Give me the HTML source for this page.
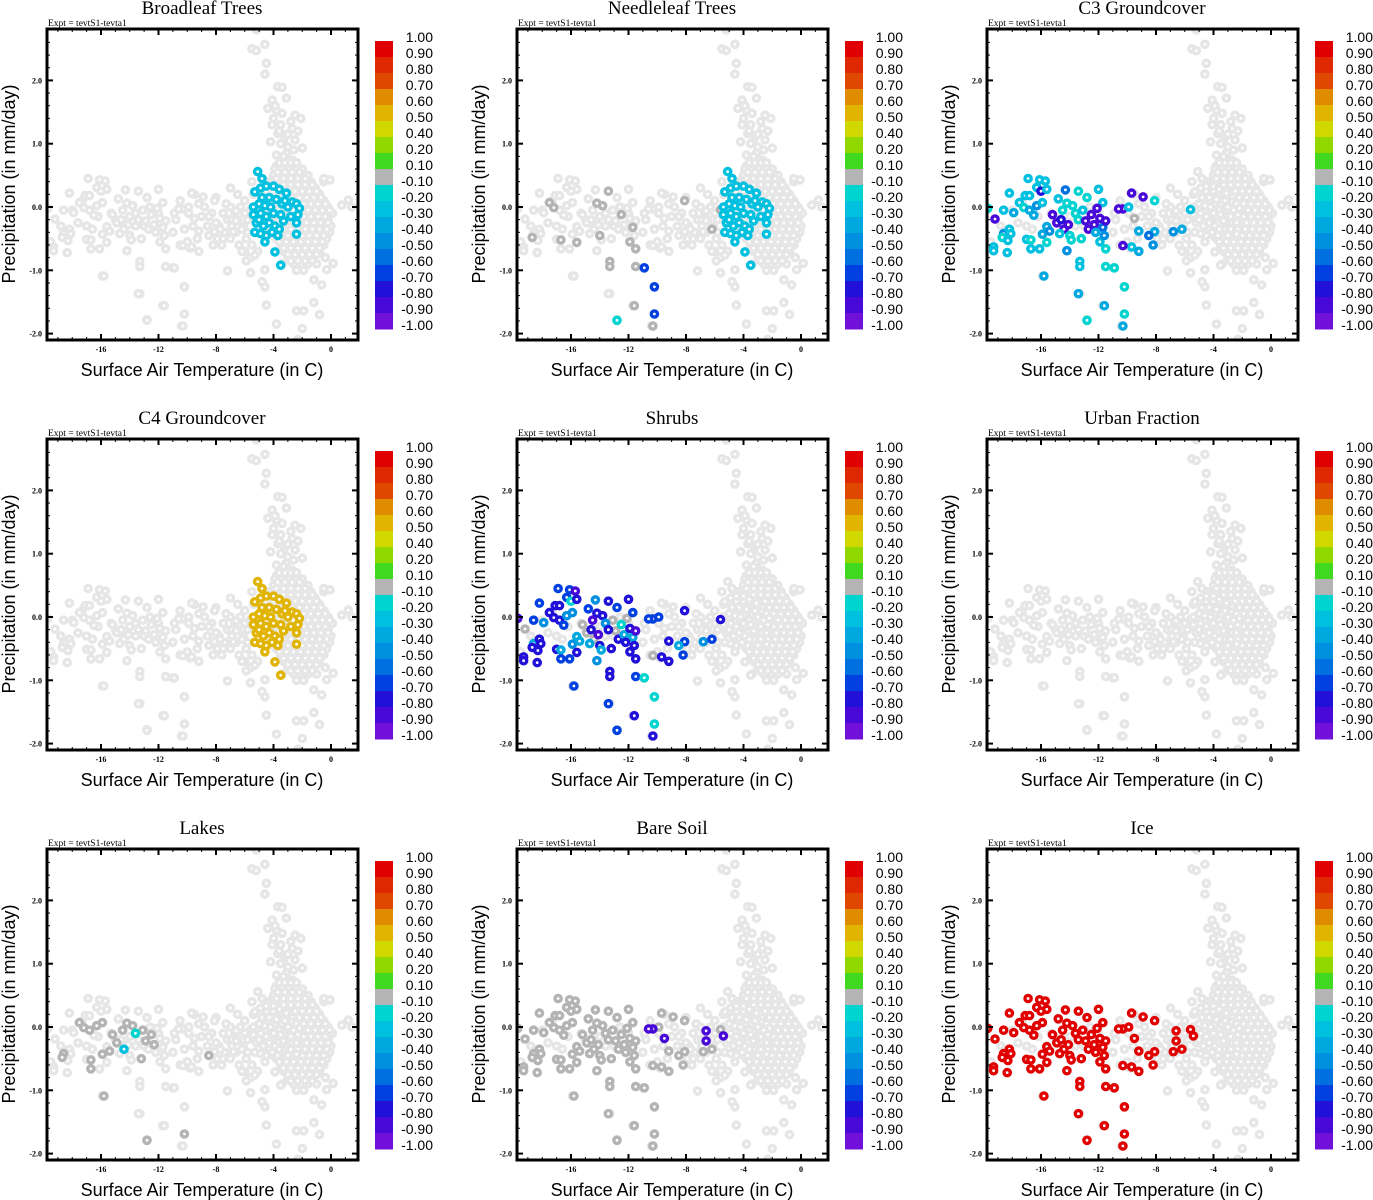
<!DOCTYPE html>
<html><head><meta charset="utf-8"><style>
html,body{margin:0;padding:0;background:#fff;}
svg{display:block;}
</style></head><body>
<svg id="fig" width="1373" height="1200" viewBox="0 0 1373 1200" xmlns="http://www.w3.org/2000/svg"></svg>
<script>
// ---- shared cold-region points ----
const coldX=[-19.7,-19.2,-19.3,-19.3,-18.6,-18.7,-18.35,-18.2,-18.6,-18.2,-18.1,-18.3,-17.9,-17.5,-17.2,-17.1,-16.9,-16.8,-16.8,-17.0,-16.7,-16.7,-16.5,-16.3,-16.1,-15.7,-16.0,-15.6,-16.3,-15.9,-16.1,-15.9,-15.8,-15.6,-15.6,-14.8,-14.3,-14.2,-14.2,-13.4,-12.8,-13.3,-13.3,-13.4,-12.8,-12.0,-11.7,-11.6,-11.5,-10.9,-11.9,-11.5,-10.3,-10.6,-10.2,-10.2,-10.3,-9.7,-9.5,-9.9,-9.7,-10.3,-9.2,-9.2,-8.9,-8.1,-8.1,-8.5,-8.2,-6.6,-6.6,-6.8,-6.2,-5.6,-5.4,-15.2,-14.9,-14.6,-14.4,-14.1,-14.7,-14.0,-13.8,-13.6,-13.4,-13.1,-12.9,-12.7,-12.5,-12.3,-12.1,-11.9,-11.7,-11.5,-11.6,-13.9,-13.2,-12.2,-15.4,-14.5];
const coldY=[-0.02,-0.19,-0.63,-0.69,-0.42,-0.48,-0.72,0.22,-0.05,-0.35,-0.42,-0.53,-0.09,0.07,-0.01,0.18,0.45,0.18,-0.05,-0.51,-0.52,-0.66,-0.13,0.31,0.43,0.41,0.25,0.28,0.02,0.07,-0.66,-0.43,-1.09,-0.56,-0.31,0.13,0.27,0.06,-0.69,0.25,0.15,-0.86,-0.94,-1.37,-1.79,0.28,0.07,-1.56,-0.94,-0.96,-0.55,-0.66,-0.03,-0.03,-1.26,-1.69,-1.88,0.22,-0.18,0.0,-0.63,-0.61,-0.38,-0.7,0.16,0.1,-0.39,-0.45,-0.6,-0.06,-0.22,-0.39,-0.35,-0.04,-0.14,-0.12,-0.25,-0.2,-0.35,-0.28,-0.42,-0.45,0.02,-0.1,-0.2,-0.05,-0.22,-0.35,-0.12,-0.28,-0.02,-0.18,-0.32,-0.22,-0.45,-0.52,-0.5,-0.4,-0.38,-0.05];
// ---- forest cluster points ----
const forestX=[-5.1,-4.8,-5.3,-4.9,-4.5,-4.0,-3.6,-3.1,-4.3,-3.8,-2.7,-2.4,-5.4,-5.0,-4.6,-4.2,-3.4,-3.0,-2.2,-5.4,-4.9,-4.5,-4.0,-3.5,-2.3,-5.2,-4.7,-4.3,-3.9,-3.3,-2.4,-5.3,-4.9,-4.5,-4.1,-3.7,-2.4,-4.6,-3.9,-3.5,-5.0,-3.6,-4.8,-2.8,-3.2];
const forestY=[0.56,0.45,0.24,0.3,0.33,0.33,0.28,0.22,0.15,0.12,0.08,0.05,0.0,0.05,0.02,0.0,0.05,0.0,-0.02,-0.12,-0.1,-0.15,-0.1,-0.12,-0.12,-0.25,-0.3,-0.25,-0.3,-0.22,-0.25,-0.4,-0.42,-0.45,-0.4,-0.45,-0.43,-0.55,-0.71,-0.92,-0.2,-0.35,0.15,-0.15,0.1];
// ---- warm background cloud ----
const bgX=[-5.2,-4.6,-5.5,-5.2,-4.5,-4.6,-3.7,-3.4,-4.1,-3.1,-4.4,-3.8,-3.4,-2.5,-2.1,-4.0,-4.1,-3.5,-2.7,-3.7,-3.2,-4.2,-3.3,-2.5,-2.0,-3.8,-3.1,-2.7,-3.8,-2.2,
-3.6,-3.2,-2.8,-2.4,-3.9,-3.4,-2.9,-2.4,-2.0,-4.0,-3.5,-3.0,-2.5,-2.0,-1.6,-4.4,-3.9,-3.4,-2.9,-2.4,-1.9,-1.4,-0.5,-4.6,-4.1,-3.6,-3.1,-2.6,-2.1,-1.6,-1.1,-5.4,-4.3,-3.8,-3.3,-2.8,-2.3,-1.8,-1.3,-0.8,
-6.0,-4.5,-4.0,-3.5,-3.0,-2.5,-2.0,-1.5,-1.0,-0.5,-7.0,-6.3,-4.2,-3.7,-3.2,-2.7,-2.2,-1.7,-1.2,-0.7,-0.2,-7.5,-6.7,-6.0,-4.4,-3.9,-3.4,-2.9,-2.4,-1.9,-1.4,-0.9,-0.4,0.1,
-7.2,-6.5,-5.8,-4.2,-3.7,-3.2,-2.7,-2.2,-1.7,-1.2,-0.7,-0.2,-7.8,-6.9,-6.1,-4.0,-3.5,-3.0,-2.5,-2.0,-1.5,-1.0,-0.5,0.0,-7.4,-6.6,-5.8,-4.1,-3.6,-3.1,-2.6,-2.1,-1.6,-1.1,-0.6,-0.1,
-7.0,-5.9,-3.8,-3.3,-2.8,-2.3,-1.8,-1.3,-0.8,-0.3,-7.6,-6.4,-5.5,-3.5,-3.0,-2.5,-2.0,-1.5,-1.0,-0.5,-6.0,-5.1,-3.3,-2.8,-2.3,-1.8,-1.3,-0.8,-5.6,-3.0,-2.5,-2.0,-1.5,-0.4,-3.4,-2.6,-2.1,-1.6,-1.0,-2.4,-1.9,
-10.8,-10.2,-9.6,-9.0,-8.6,-8.0,-9.3,-8.8,-10.5,-11.0,-9.9,-8.3,-7.7,-10.0,-9.2,-8.5,-7.3,-6.9,-7.9,-10.9,
-15.9,-13.3,-12.8,-11.7,-10.4,-10.2,-10.2,-11.5,-11.0,-7.2,-5.6,-4.6,-4.5,-3.8,-2.4,-1.9,-1.2,-0.8,-2.0,-2.3,-5.3,-5.9,-4.6,-4.8,-1.2,-0.65,-0.3,0.15,0.75,1.2,1.44,-0.5,-0.07,
-18.8,-19.5,-17.6,-17.0,-16.2,-15.0,-14.0,-13.0,-12.0,-18.0,-17.3,-16.6,-15.3,-14.6,-13.6,-12.6];
const bgY=[2.8,2.57,2.5,2.47,2.27,2.1,1.9,1.89,1.69,1.72,1.56,1.53,1.48,1.45,1.4,1.4,1.3,1.3,1.24,1.16,1.11,1.03,1.03,1.06,0.93,0.82,0.85,0.74,0.65,0.61,
0.7,0.7,0.7,0.7,0.6,0.6,0.6,0.6,0.6,0.5,0.5,0.5,0.5,0.5,0.5,0.4,0.4,0.4,0.4,0.4,0.4,0.4,0.4,0.3,0.3,0.3,0.3,0.3,0.3,0.3,0.3,0.2,0.2,0.2,0.2,0.2,0.2,0.2,0.2,0.2,
0.1,0.1,0.1,0.1,0.1,0.1,0.1,0.1,0.1,0.1,0.0,0.0,0.0,0.0,0.0,0.0,0.0,0.0,0.0,0.0,0.0,-0.1,-0.1,-0.1,-0.1,-0.1,-0.1,-0.1,-0.1,-0.1,-0.1,-0.1,-0.1,-0.1,
-0.2,-0.2,-0.2,-0.2,-0.2,-0.2,-0.2,-0.2,-0.2,-0.2,-0.2,-0.2,-0.3,-0.3,-0.3,-0.3,-0.3,-0.3,-0.3,-0.3,-0.3,-0.3,-0.3,-0.3,-0.4,-0.4,-0.4,-0.4,-0.4,-0.4,-0.4,-0.4,-0.4,-0.4,-0.4,-0.4,
-0.5,-0.5,-0.5,-0.5,-0.5,-0.5,-0.5,-0.5,-0.5,-0.5,-0.6,-0.6,-0.6,-0.6,-0.6,-0.6,-0.6,-0.6,-0.6,-0.6,-0.7,-0.7,-0.7,-0.7,-0.7,-0.7,-0.7,-0.7,-0.8,-0.8,-0.8,-0.8,-0.8,-0.8,-0.9,-0.9,-0.9,-0.9,-0.9,-1.0,-1.0,
-0.2,-0.35,-0.3,-0.15,-0.3,-0.25,-0.5,0.0,0.1,-0.4,-0.1,-0.1,-0.35,-0.55,0.05,-0.15,0.05,-0.2,-0.5,-0.1,
-1.09,-1.37,-1.78,-1.56,-1.88,-1.69,-1.26,-0.94,-0.96,-1.01,-1.04,-1.26,-1.55,-1.85,-1.64,-1.64,-1.51,-1.7,-1.92,-2.09,-0.76,-0.85,-0.99,-1.18,-1.15,-1.23,-0.99,-0.89,0.03,0.11,0.0,0.45,0.43,
-0.3,-0.55,-0.25,-0.3,-0.15,-0.2,-0.15,-0.3,-0.1,-0.05,0.1,-0.35,-0.1,-0.25,-0.3,0.0];
// ---- additional (offset) background points in the dense core ----
const bgX2=[-3.7,-3.2,-2.7,-2.2,-3.8,-3.3,-2.8,-2.3,-1.8,-4.3,-3.8,-3.3,-2.8,-2.3,-1.8,-1.3,-4.5,-4.0,-3.5,-3.0,-2.5,-2.0,-1.5,-1.0,
-4.7,-4.2,-3.7,-3.2,-2.7,-2.2,-1.7,-1.2,-0.7,-4.4,-3.9,-3.4,-2.9,-2.4,-1.9,-1.4,-0.9,-0.4,-4.6,-4.1,-3.6,-3.1,-2.6,-2.1,-1.6,-1.1,-0.6,-0.1,
-4.4,-3.9,-3.4,-2.9,-2.4,-1.9,-1.4,-0.9,-0.4,-4.2,-3.7,-3.2,-2.7,-2.2,-1.7,-1.2,-0.7,-0.2,-4.3,-3.8,-3.3,-2.8,-2.3,-1.8,-1.3,-0.8,-0.3,
-4.0,-3.5,-3.0,-2.5,-2.0,-1.5,-1.0,-0.5,-3.6,-3.1,-2.6,-2.1,-1.6,-1.1,-0.6,-3.3,-2.8,-2.3,-1.8,-1.3,-0.8,-3.0,-2.5,-2.0,-1.5,-1.0,-2.8,-2.3,-1.8,-1.3,
-3.5,-3.0,-3.3,-2.6,-3.6,-3.0,-2.3,-3.9,-2.8,-7.5,-6.5,-5.5,-7.0,-6.2,-9.5,-8.0,-10.5,-9.8];
const bgY2=[0.55,0.55,0.55,0.55,0.45,0.45,0.45,0.45,0.45,0.35,0.35,0.35,0.35,0.35,0.35,0.35,0.25,0.25,0.25,0.25,0.25,0.25,0.25,0.25,
0.15,0.15,0.15,0.15,0.15,0.15,0.15,0.15,0.15,0.05,0.05,0.05,0.05,0.05,0.05,0.05,0.05,0.05,-0.05,-0.05,-0.05,-0.05,-0.05,-0.05,-0.05,-0.05,-0.05,-0.05,
-0.15,-0.15,-0.15,-0.15,-0.15,-0.15,-0.15,-0.15,-0.15,-0.25,-0.25,-0.25,-0.25,-0.25,-0.25,-0.25,-0.25,-0.25,-0.35,-0.35,-0.35,-0.35,-0.35,-0.35,-0.35,-0.35,-0.35,
-0.45,-0.45,-0.45,-0.45,-0.45,-0.45,-0.45,-0.45,-0.55,-0.55,-0.55,-0.55,-0.55,-0.55,-0.55,-0.65,-0.65,-0.65,-0.65,-0.65,-0.65,-0.75,-0.75,-0.75,-0.75,-0.75,-0.85,-0.85,-0.85,-0.85,
1.0,0.95,0.8,0.9,1.2,1.15,1.2,1.6,1.35,-0.5,0.2,0.4,0.3,-0.7,0.2,0.15,-0.6,-0.65];
// ---- per-panel values ----
const c3Vals=[-0.2,-0.9,-0.3,-0.3,-0.5,-0.2,-0.3,-0.3,-0.3,-0.3,-0.3,-0.3,-0.4,-0.3,-0.2,-0.3,-0.3,-0.3,-0.4,-0.3,-0.2,-0.3,-0.4,-0.3,-0.3,-0.3,-0.8,-0.3,-0.5,-0.3,-0.3,-0.4,-0.4,-0.2,-0.4,-0.3,-0.6,-0.2,-0.5,-0.2,-0.2,-0.3,-0.3,-0.4,-0.2,-0.3,-0.3,-0.4,-0.2,-0.2,-0.3,-0.2,-0.9,-0.9,-0.2,-0.2,-0.4,-0.9,-0.1,-0.3,-0.3,-0.9,-0.4,-0.4,-0.9,-0.2,-0.4,-0.6,-0.5,null,null,-0.5,-0.4,-0.3,null,-0.9,-0.9,-0.8,-0.9,-0.9,-0.3,-0.2,-0.2,-0.2,-0.2,-0.3,-0.9,-0.9,-0.9,-0.9,-0.9,-0.9,-0.6,-0.9,-0.5,-0.2,-0.2,-0.4,-0.5,-0.2];
const shrubVals=[-0.9,-0.1,-0.8,-0.8,-0.4,-0.8,-0.8,-0.7,-0.7,-0.8,-0.8,-0.8,-0.5,-0.8,-0.8,-0.8,-0.7,-0.8,-0.8,-0.8,-0.4,-0.7,-0.7,-0.7,-0.7,-0.9,-0.2,-0.8,-0.5,-0.5,-0.7,-0.5,-0.7,-0.8,-0.4,-0.7,-0.5,-0.8,-0.5,-0.8,-0.7,-0.8,-0.8,-0.7,-0.7,-0.8,-0.7,-0.8,-0.7,-0.2,-0.8,-0.8,-0.7,-0.7,-0.2,-0.2,-0.8,null,null,-0.7,-0.8,-0.1,-0.8,-0.8,null,-0.8,-0.7,-0.4,-0.7,null,null,-0.5,-0.7,-0.8,null,-0.1,-0.1,-0.8,-0.1,-0.9,-0.4,-0.8,-0.8,-0.5,-0.8,-0.1,-0.1,-0.8,-0.2,-0.4,-0.1,-0.8,-0.4,-0.9,-0.8,-0.4,-0.8,-0.8,-0.4,-0.9];
const iceVals=[1,1,1,1,1,1,1,1,1,1,1,1,1,1,1,1,1,1,1,1,1,1,1,1,1,1,1,1,1,1,1,1,1,1,1,1,1,1,1,1,1,1,1,1,1,1,1,1,1,1,1,1,1,1,1,1,1,1,1,1,1,1,1,1,1,1,1,1,1,1,1,1,1,1,1,1,1,1,1,1,1,1,1,1,1,1,1,1,1,1,1,1,1,1,1,1,1,1,1,1];
const bareVals=[-0.1,-0.1,-0.1,-0.1,-0.1,-0.1,-0.1,-0.1,-0.1,-0.1,-0.1,-0.1,-0.1,-0.1,-0.1,-0.1,-0.1,-0.1,-0.1,-0.1,-0.1,-0.1,-0.1,-0.1,-0.1,-0.1,-0.1,-0.1,-0.1,-0.1,-0.1,-0.1,-0.1,-0.1,-0.1,-0.1,-0.1,-0.1,-0.1,-0.1,-0.1,-0.1,-0.1,-0.1,-0.1,-0.1,-0.1,-0.1,-0.1,-0.1,-0.1,-0.1,-0.9,-0.9,-0.1,-0.1,-0.1,-0.1,-0.9,-0.1,-0.1,-0.1,-0.1,-0.1,-0.1,-0.1,-0.1,-0.1,-0.1,-0.9,-0.9,-0.1,-0.1,-0.1,-0.9,-0.1,-0.1,-0.1,-0.1,-0.1,-0.1,-0.1,-0.1,-0.1,-0.1,-0.1,-0.1,-0.1,-0.1,-0.1,-0.1,-0.1,-0.1,-0.1,-0.1,-0.1,-0.1,-0.1,-0.1,-0.1];
const lakeVals=[null,null,null,null,-0.1,-0.1,null,null,null,null,null,null,null,-0.1,-0.1,null,null,null,-0.1,null,-0.1,-0.1,null,null,null,null,null,null,-0.1,-0.1,null,-0.1,-0.1,null,null,null,null,-0.1,null,null,null,null,null,null,-0.1,null,null,null,null,null,null,null,null,null,null,-0.1,null,null,null,null,null,null,null,null,null,null,null,-0.1,null,null,null,null,null,null,null,-0.1,-0.1,null,-0.3,null,null,null,-0.1,-0.2,null,-0.1,-0.1,null,-0.1,-0.1,null,null,null,null,null,null,-0.1,null,-0.1,-0.1];
const needleVals=[null,null,null,null,null,-0.1,null,null,null,null,null,null,null,-0.1,-0.1,null,null,null,null,null,-0.1,null,null,null,null,null,null,null,null,null,null,null,null,-0.1,null,null,null,-0.1,null,-0.1,null,-0.1,-0.1,null,-0.2,null,null,-0.1,-0.1,-0.7,-0.1,-0.1,null,null,-0.7,-0.7,-0.1,null,null,null,null,null,null,null,null,-0.1,null,null,null,null,null,null,-0.1,-0.1,null,null,null,null,null,null,null,-0.1,-0.1,null,null,null,null,null,-0.1,null,null,null,-0.1,null,null,null,null,null,null,null];
const broadForest=[-0.3], needleForest=[-0.3], c4Forest=[0.5];
// ---- colorbar ----
const cbLabels=["1.00","0.90","0.80","0.70","0.60","0.50","0.40","0.20","0.10","-0.10","-0.20","-0.30","-0.40","-0.50","-0.60","-0.70","-0.80","-0.90","-1.00"];
const cbBounds=[1,0.9,0.8,0.7,0.6,0.5,0.4,0.2,0.1,-0.1,-0.2,-0.3,-0.4,-0.5,-0.6,-0.7,-0.8,-0.9,-1.0];
const xTicks=[-16,-12,-8,-4,0];
const yTicks=[-2,-1,0,1,2];
const yTickLabels=["-2.0","-1.0","0.0","1.0","2.0"];

const panels=[
 {t:"Broadleaf Trees",c:0,r:0,cold:null,forest:broadForest},
 {t:"Needleleaf Trees",c:1,r:0,cold:needleVals,forest:needleForest},
 {t:"C3 Groundcover",c:2,r:0,cold:c3Vals,forest:null},
 {t:"C4 Groundcover",c:0,r:1,cold:null,forest:c4Forest},
 {t:"Shrubs",c:1,r:1,cold:shrubVals,forest:null},
 {t:"Urban Fraction",c:2,r:1,cold:null,forest:null},
 {t:"Lakes",c:0,r:2,cold:lakeVals,forest:null},
 {t:"Bare Soil",c:1,r:2,cold:bareVals,forest:null},
 {t:"Ice",c:2,r:2,cold:iceVals,forest:null}];

const NS="http://www.w3.org/2000/svg";
const svg=document.getElementById('fig');
function mk(tag,attrs,parent){const e=document.createElementNS(NS,tag);for(const k in attrs)e.setAttribute(k,attrs[k]);parent.appendChild(e);return e;}
function boxColor(v){for(let i=0;i<18;i++){if(v>cbBounds[i+1]-1e-9)return i;}return 17;}
const boxColors=["#e00000","#e02800","#e04800","#e08c00","#e0b400","#d0d800","#90d800","#40d820","#b4b4b4","#00d4d0","#00c0e0","#00a8e0","#0090e0","#0070e0","#0040e0","#2010d8","#4808d8","#7010d8"];

panels.forEach(p=>{
  const ox=p.c*470, oy=p.r*410;
  const sx=T=>ox+331+14.375*T, sy=P=>oy+207-63.3*P;
  const g=mk('g',{},svg);
  
  
  const title=mk('text',{x:ox+202,y:oy+14,'text-anchor':'middle','font-family':'Liberation Serif, serif','font-size':19},g);
  title.textContent=p.t;
  
  
  const ex=mk('text',{x:ox+48,y:oy+26,'font-family':'Liberation Serif, serif','font-size':9.5},g);
  ex.textContent='Expt = tevtS1-tevta1';
  
  
  const clip='clip'+p.c+p.r;
  const cp=mk('clipPath',{id:clip},g); mk('rect',{x:ox+47,y:oy+29,width:311,height:311},cp);
  const pts=mk('g',{'clip-path':'url(#'+clip+')'},g);
  
  
  function dot(T,P,col){const c=mk('circle',{cx:sx(T).toFixed(1),cy:sy(P).toFixed(1),r:3.1,fill:'#fff',stroke:col,'stroke-width':3.4},pts);
    
    }
  const bgc='#e6e6e6';
  bgX.forEach((x,i)=>dot(x,bgY[i],bgc));
  bgX2.forEach((x,i)=>dot(x,bgY2[i],bgc));
  coldX.forEach((x,i)=>dot(x,coldY[i],bgc));
  forestX.forEach((x,i)=>dot(x,forestY[i],bgc));
  if(p.cold){coldX.forEach((x,i)=>{const v=p.cold[i];if(v!==null&&v!==undefined&&boxColor(v)===8)dot(x,coldY[i],boxColors[8]);});
    coldX.forEach((x,i)=>{const v=p.cold[i];if(v!==null&&v!==undefined&&boxColor(v)!==8)dot(x,coldY[i],boxColors[boxColor(v)]);});}
  if(p.forest){forestX.forEach((x,i)=>dot(x,forestY[i],boxColors[boxColor(p.forest[0])]));}
  const fr=mk('rect',{x:ox+47,y:oy+29,width:311,height:311,fill:'none',stroke:'#000','stroke-width':3},g);
  
  
  for(let T=-19;T<=1;T++){const maj=T%4===0;const L=maj?6:3;const x=sx(T);
    mk('line',{x1:x,x2:x,y1:oy+340,y2:oy+340-L,stroke:'#000','stroke-width':maj?2:1},g);
    mk('line',{x1:x,x2:x,y1:oy+29,y2:oy+29+L,stroke:'#000','stroke-width':maj?2:1},g);}
  for(let k=-10;k<=14;k++){const P=k*0.2;const maj=k%5===0;const L=maj?6:3;const y=sy(P);
    mk('line',{x1:ox+47,x2:ox+47+L,y1:y,y2:y,stroke:'#000','stroke-width':maj?2:1},g);
    mk('line',{x1:ox+358,x2:ox+358-L,y1:y,y2:y,stroke:'#000','stroke-width':maj?2:1},g);}
  xTicks.forEach(T=>{const t=mk('text',{x:sx(T),y:oy+352,'text-anchor':'middle','font-family':'Liberation Serif, serif','font-size':8,'font-weight':'bold'},g);t.textContent=String(T);
    
    });
  yTicks.forEach((P,i)=>{const t=mk('text',{x:ox+42,y:sy(P)+3,'text-anchor':'end','font-family':'Liberation Serif, serif','font-size':8,'font-weight':'bold'},g);t.textContent=yTickLabels[i];
    
    });
  const xt=mk('text',{x:ox+202,y:oy+376,'text-anchor':'middle','font-family':'Liberation Sans, sans-serif','font-size':18},g);xt.textContent='Surface Air Temperature (in C)';
  
  
  const yt=mk('text',{x:0,y:0,'text-anchor':'middle','font-family':'Liberation Sans, sans-serif','font-size':18,transform:`translate(${ox+15},${oy+184}) rotate(-90)`},g);yt.textContent='Precipitation (in mm/day)';
  
  
  const cb=mk('g',{},g);
  
  
  boxColors.forEach((c,i)=>{const r=mk('rect',{x:ox+375,y:oy+41+i*16,width:18,height:16.5,fill:c},cb);
    
    });
  cbLabels.forEach((l,i)=>{const t=mk('text',{x:ox+433,y:oy+42+i*16,'text-anchor':'end','font-family':'Liberation Sans, sans-serif','font-size':14},cb);t.textContent=l;
    
    });
});
</script>
</body></html>
